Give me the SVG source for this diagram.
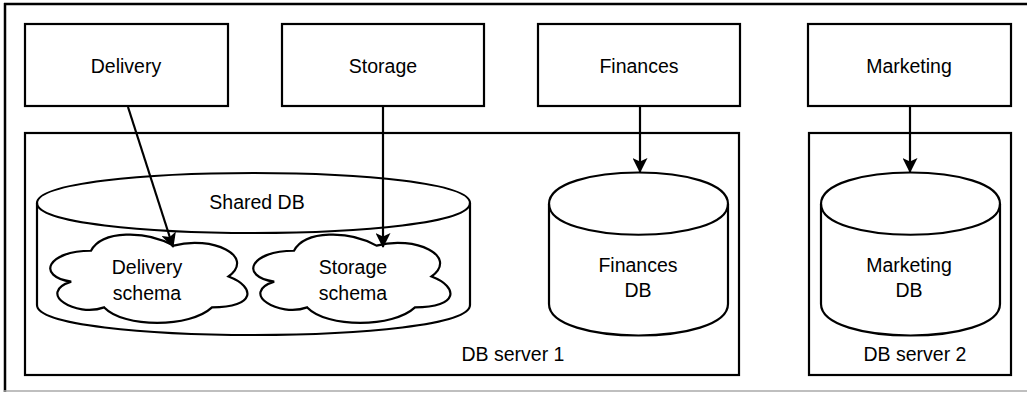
<svg xmlns="http://www.w3.org/2000/svg" width="1027" height="394" viewBox="0 0 1027 394">
<style>
.box{fill:#fff;stroke:#000;stroke-width:2.2}
.shape{fill:#fff;stroke:#000;stroke-width:2.2}
.line{fill:none;stroke:#000;stroke-width:2.2}
.lbl{font-family:"Liberation Sans",Arial,sans-serif;font-size:19.5px;fill:#000;text-anchor:middle}
.conn{fill:none;stroke:#000;stroke-width:2.2;marker-end:url(#arr)}
</style>
<defs>
<marker id="arr" markerUnits="userSpaceOnUse" markerWidth="15" markerHeight="15" refX="14" refY="7.5" orient="auto" viewBox="0 0 15 15">
<path d="M0,0 L15,7.5 L0,15 L3.5,7.5 Z" fill="#000"/>
</marker>
</defs>
<rect width="1027" height="394" fill="#fff"/>
<g id="frame">
<line x1="4" y1="4" x2="1027" y2="4" stroke="#000" stroke-width="2.5"/>
<line x1="5" y1="3" x2="5" y2="392" stroke="#000" stroke-width="2.5"/>
<line x1="4" y1="391" x2="1027" y2="391" stroke="#aaa" stroke-width="1.5"/>
</g>
<g id="server1">
<rect class="box" x="25" y="133" width="714" height="242"/>
<text class="lbl" x="513" y="361">DB server 1</text>
</g>
<g id="server2">
<rect class="box" x="809" y="133" width="202" height="242"/>
<text class="lbl" x="915" y="361">DB server 2</text>
</g>
<g id="shared-db">
<path class="shape" d="M37,203 C37,163 470,163 470,203 L470,305 C470,345 37,345 37,305 Z"/>
<path class="line" d="M37,203 C37,243 470,243 470,203"/>
<text class="lbl" x="257" y="209">Shared DB</text>
</g>
<g id="delivery-schema">
<path class="shape" vector-effect="non-scaling-stroke" transform="translate(36,225) scale(2.2,1.03)" d="M25,25 C5,25 0,50 16,55 C0,66 18,90 31,80 C40,100 70,100 80,80 C100,80 100,60 87.5,50 C100,30 80,10 62.5,20 C50,5 30,5 25,25 Z"/>
<text class="lbl" x="147" y="274">Delivery</text>
<text class="lbl" x="147" y="300">schema</text>
</g>
<g id="storage-schema">
<path class="shape" vector-effect="non-scaling-stroke" transform="translate(239,225) scale(2.2,1.03)" d="M25,25 C5,25 0,50 16,55 C0,66 18,90 31,80 C40,100 70,100 80,80 C100,80 100,60 87.5,50 C100,30 80,10 62.5,20 C50,5 30,5 25,25 Z"/>
<text class="lbl" x="353" y="274">Storage</text>
<text class="lbl" x="353" y="300">schema</text>
</g>
<g id="finances-db">
<path class="shape" d="M549,204 C549,162 728,162 728,204 L728,304 C728,346 549,346 549,304 Z"/>
<path class="line" d="M549,204 C549,245 728,245 728,204"/>
<text class="lbl" x="638" y="272">Finances</text>
<text class="lbl" x="638" y="297">DB</text>
</g>
<g id="marketing-db">
<path class="shape" d="M821,204 C821,162 1000,162 1000,204 L1000,304 C1000,346 821,346 821,304 Z"/>
<path class="line" d="M821,204 C821,245 1000,245 1000,204"/>
<text class="lbl" x="909" y="272">Marketing</text>
<text class="lbl" x="909" y="297">DB</text>
</g>
<g id="delivery">
<rect class="box" x="25" y="24" width="203" height="82"/>
<text class="lbl" x="126" y="73">Delivery</text>
</g>
<g id="storage">
<rect class="box" x="282" y="24" width="202" height="82"/>
<text class="lbl" x="383" y="73">Storage</text>
</g>
<g id="finances">
<rect class="box" x="538" y="24" width="202" height="82"/>
<text class="lbl" x="639" y="73">Finances</text>
</g>
<g id="marketing">
<rect class="box" x="808" y="24" width="203" height="82"/>
<text class="lbl" x="909" y="73">Marketing</text>
</g>
<g id="connectors">
<line class="conn" x1="128" y1="107" x2="173" y2="247"/>
<line class="conn" x1="383" y1="107" x2="383" y2="247"/>
<line class="conn" x1="640" y1="107" x2="640" y2="172"/>
<line class="conn" x1="910" y1="107" x2="910" y2="172"/>
</g>
</svg>
